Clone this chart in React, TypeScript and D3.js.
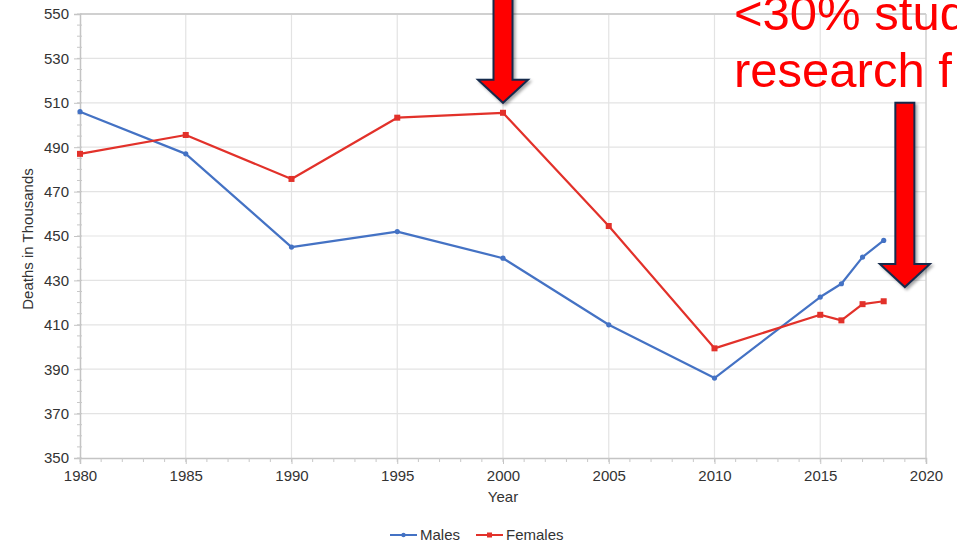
import React, { useEffect, useRef } from "react";
import * as d3 from "d3";

// Deaths (thousands) by year for each sex
const years = [1980, 1985, 1990, 1995, 2000, 2005, 2010, 2015, 2016, 2017, 2018];
const males = [506, 487, 445, 452, 440, 410, 386, 422.5, 428.5, 440.5, 448];
const females = [487, 495.5, 475.7, 503.3, 505.5, 454.5, 399.4, 414.5, 412, 419.3, 420.6];

const xTicks = [1980, 1985, 1990, 1995, 2000, 2005, 2010, 2015, 2020];
const yTicks = [350, 370, 390, 410, 430, 450, 470, 490, 510, 530, 550];

// Callout arrows: year pointed at, value of the tip, value of the shaft top
const arrows = [
  { year: 2000, tip: 510, top: 575 },
  { year: 2019, tip: 427, top: 510 },
];
const calloutLines = ["<30% stud", "research f"];

const W = 957;
const H = 544;
const M = { left: 80, right: 31, top: 14, bottom: 86 };

const BLUE = "#4472c4";
const RED = "#e2312a";
const FONT = "'Liberation Sans', Arial, Helvetica, sans-serif";

export default function App() {
  const ref = useRef<SVGSVGElement | null>(null);

  useEffect(() => {
    const svg = d3.select(ref.current);
    svg.selectAll("*").remove();

    const x = d3.scaleLinear().domain([1980, 2020]).range([M.left, W - M.right]);
    const y = d3.scaleLinear().domain([350, 550]).range([H - M.bottom, M.top]);

    const defs = svg.append("defs");
    const f = defs.append("filter").attr("id", "shadow").attr("x", "-30%").attr("y", "-30%").attr("width", "160%").attr("height", "160%");
    f.append("feDropShadow").attr("dx", 2).attr("dy", 2).attr("stdDeviation", 1.5).attr("flood-color", "#000").attr("flood-opacity", 0.35);

    const g = svg.append("g");

    // gridlines
    g.selectAll("line.vg")
      .data(xTicks.slice(1, -1))
      .join("line")
      .attr("x1", (d) => x(d))
      .attr("x2", (d) => x(d))
      .attr("y1", y(550))
      .attr("y2", y(350))
      .attr("stroke", "#e3e3e3")
      .attr("stroke-width", 1.2);
    g.selectAll("line.hg")
      .data(yTicks.slice(1, -1))
      .join("line")
      .attr("x1", x(1980))
      .attr("x2", x(2020))
      .attr("y1", (d) => y(d))
      .attr("y2", (d) => y(d))
      .attr("stroke", "#e3e3e3")
      .attr("stroke-width", 1.2);

    // frame top and right
    g.append("line").attr("x1", x(1980)).attr("x2", x(2020)).attr("y1", y(550)).attr("y2", y(550)).attr("stroke", "#d0d0d0").attr("stroke-width", 2);
    g.append("line").attr("x1", x(2020)).attr("x2", x(2020)).attr("y1", y(550)).attr("y2", y(350)).attr("stroke", "#d0d0d0").attr("stroke-width", 1.5);

    // y axis with minor ticks every 5
    const yAxis = d3.axisLeft(y).tickValues(yTicks).tickSize(6).tickPadding(5).tickFormat(d3.format("d"));
    const ya = g.append("g").attr("transform", `translate(${x(1980)},0)`).call(yAxis);
    g.selectAll("line.ym")
      .data(d3.range(350, 551, 5))
      .join("line")
      .attr("x1", x(1980) - 3)
      .attr("x2", x(1980) + 2)
      .attr("y1", (d) => y(d))
      .attr("y2", (d) => y(d))
      .attr("stroke", "#c8c8c8");

    // x axis with minor ticks every year
    const xAxis = d3.axisBottom(x).tickValues(xTicks).tickSize(6).tickPadding(6).tickFormat(d3.format("d"));
    const xa = g.append("g").attr("transform", `translate(0,${y(350)})`).call(xAxis);
    g.selectAll("line.xm")
      .data(d3.range(1980, 2021, 1))
      .join("line")
      .attr("x1", (d) => x(d))
      .attr("x2", (d) => x(d))
      .attr("y1", y(350))
      .attr("y2", y(350) + 4)
      .attr("stroke", "#c8c8c8");

    [ya, xa].forEach((a) => {
      a.select(".domain").attr("stroke", "#c4c4c4").attr("stroke-width", 1.5);
      a.selectAll(".tick line").attr("stroke", "#c4c4c4");
      a.selectAll(".tick text").attr("fill", "#333").attr("font-size", 15).attr("font-family", FONT);
    });

    // axis titles
    g.append("text")
      .attr("transform", `translate(33,${(y(350) + y(550)) / 2 + 3}) rotate(-90)`)
      .attr("text-anchor", "middle")
      .attr("font-family", FONT)
      .attr("font-size", 15)
      .attr("fill", "#333")
      .text("Deaths in Thousands");
    g.append("text")
      .attr("x", x(2000))
      .attr("y", y(350) + 44)
      .attr("text-anchor", "middle")
      .attr("font-family", FONT)
      .attr("font-size", 15)
      .attr("fill", "#333")
      .text("Year");

    // series
    const series = [
      { name: "Males", values: males, color: BLUE, marker: "circle" },
      { name: "Females", values: females, color: RED, marker: "square" },
    ];
    const line = d3
      .line<number>()
      .x((_, i) => x(years[i]))
      .y((d) => y(d));

    series.forEach((s) => {
      g.append("path")
        .datum(s.values)
        .attr("fill", "none")
        .attr("stroke", s.color)
        .attr("stroke-width", 2.2)
        .attr("stroke-linejoin", "round")
        .attr("d", line);
      if (s.marker === "circle") {
        g.selectAll(null)
          .data(s.values)
          .join("circle")
          .attr("cx", (_, i) => x(years[i]))
          .attr("cy", (d) => y(d))
          .attr("r", 2.6)
          .attr("fill", s.color);
      } else {
        g.selectAll(null)
          .data(s.values)
          .join("rect")
          .attr("x", (_, i) => x(years[i]) - 3)
          .attr("y", (d) => y(d) - 3)
          .attr("width", 6)
          .attr("height", 6)
          .attr("fill", s.color);
      }
    });

    // legend
    const legend = g.append("g").attr("transform", `translate(390,${H - 9})`);
    let lx = 0;
    series.forEach((s) => {
      const item = legend.append("g").attr("transform", `translate(${lx},0)`);
      item.append("line").attr("x1", 0).attr("x2", 27).attr("y1", 0).attr("y2", 0).attr("stroke", s.color).attr("stroke-width", 2);
      if (s.marker === "circle") item.append("circle").attr("cx", 13.5).attr("cy", 0).attr("r", 2.2).attr("fill", s.color);
      else item.append("rect").attr("x", 11).attr("y", -2.5).attr("width", 5).attr("height", 5).attr("fill", s.color);
      const t = item
        .append("text")
        .attr("x", 30)
        .attr("y", 5)
        .attr("font-family", FONT)
        .attr("font-size", 15)
        .attr("fill", "#333")
        .text(s.name);
      lx += 30 + (t.node() as SVGTextElement).getComputedTextLength() + 16;
    });

    // callout arrows
    arrows.forEach((a) => {
      const cx = x(a.year);
      const tipY = y(a.tip);
      const topY = y(a.top);
      const headH = 23;
      const headW = 25;
      const shaftW = 9.5;
      const pts: [number, number][] = [
        [cx - shaftW, topY],
        [cx + shaftW, topY],
        [cx + shaftW, tipY - headH],
        [cx + headW, tipY - headH],
        [cx, tipY],
        [cx - headW, tipY - headH],
        [cx - shaftW, tipY - headH],
      ];
      g.append("path")
        .attr("d", "M" + pts.map((p) => p.join(",")).join("L") + "Z")
        .attr("fill", "#ff0000")
        .attr("stroke", "#172a4c")
        .attr("stroke-width", 2)
        .attr("stroke-linejoin", "miter")
        .attr("filter", "url(#shadow)");
    });

    // callout text, running past the right edge
    const callout = g.append("text").attr("font-family", FONT).attr("font-size", 49).attr("fill", "#ff0000");
    calloutLines.forEach((l, i) => {
      callout.append("tspan").attr("x", 734).attr("y", 30 + i * 57).text(l);
    });
  }, []);

  return (
    <svg
      ref={ref}
      width={W}
      height={H}
      style={{ position: "absolute", left: 0, top: 0, background: "#fff", display: "block" }}
    />
  );
}
